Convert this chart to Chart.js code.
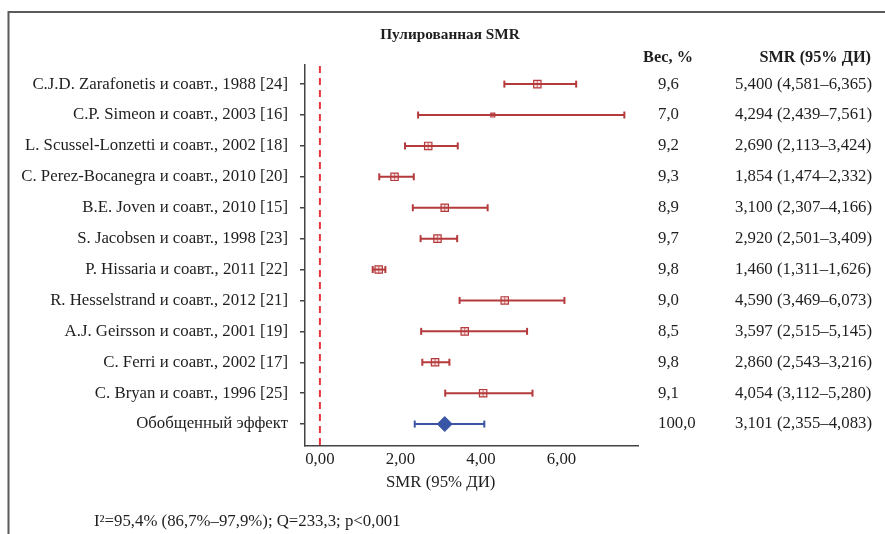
<!DOCTYPE html>
<html>
<head>
<meta charset="utf-8">
<script src="https://cdn.jsdelivr.net/npm/chart.js@4"></script>
<style>body{margin:0;background:#fff}</style>
</head>
<body>
<canvas id="chart" width="885" height="534"></canvas>
<script>
const studies = [
  'C.J.D. Zarafonetis и соавт., 1988 [24]',
  'C.P. Simeon и соавт., 2003 [16]',
  'L. Scussel-Lonzetti и соавт., 2002 [18]',
  'C. Perez-Bocanegra и соавт., 2010 [20]',
  'B.E. Joven и соавт., 2010 [15]',
  'S. Jacobsen и соавт., 1998 [23]',
  'P. Hissaria и соавт., 2011 [22]',
  'R. Hesselstrand и соавт., 2012 [21]',
  'A.J. Geirsson и соавт., 2001 [19]',
  'C. Ferri и соавт., 2002 [17]',
  'C. Bryan и соавт., 1996 [25]',
  'Обобщенный эффект'
];
const smr    = [5.400, 4.294, 2.690, 1.854, 3.100, 2.920, 1.460, 4.590, 3.597, 2.860, 4.054, 3.101];
const ciLow  = [4.581, 2.439, 2.113, 1.474, 2.307, 2.501, 1.311, 3.469, 2.515, 2.543, 3.112, 2.355];
const ciHigh = [6.365, 7.561, 3.424, 2.332, 4.166, 3.409, 1.626, 6.073, 5.145, 3.216, 5.280, 4.083];
const weights = [9.6, 7.0, 9.2, 9.3, 8.9, 9.7, 9.8, 9.0, 8.5, 9.8, 9.1, 100.0];
const xTicks = [0, 2, 4, 6];
const columnHeaders = ['Вес, %', 'SMR (95% ДИ)'];
const chartTitle = 'Пулированная SMR';
const xTitle = 'SMR (95% ДИ)';
const footnote = 'I²=95,4% (86,7%–97,9%); Q=233,3; p<0,001';

const pooled = studies.length - 1;
const red = '#b53a3c';
const blue = '#3b55a6';
const serif = "'Liberation Serif', 'Times New Roman', serif";
const textColor = '#1e1e1e';
const fontSize = 16.8;

const comma = (v, d) => v.toFixed(d).replace('.', ',');
const smrText = smr.map((v, i) => `${comma(v, 3)} (${comma(ciLow[i], 3)}–${comma(ciHigh[i], 3)})`);
const rowTicks = scale => { scale.ticks = studies.map((_, i) => ({ value: i })); };
const rowRange = { type: 'linear', reverse: true, min: -0.62, max: 11.71, afterBuildTicks: rowTicks };

const ciSets = studies.map((_, i) => ({
  data: [{ x: ciLow[i], y: i }, { x: ciHigh[i], y: i }],
  showLine: true,
  borderColor: i === pooled ? blue : red,
  borderWidth: 2,
  pointStyle: 'line',
  rotation: 90,
  pointRadius: 3.5,
  pointBorderWidth: 2,
  pointBorderColor: i === pooled ? blue : red
}));

const studyPoints = smr.slice(0, pooled).map((v, i) => ({ x: v, y: i }));

const extras = {
  id: 'extras',
  beforeDatasetsDraw(chart) {
    const { ctx, chartArea, scales } = chart;
    const x0 = scales.x.getPixelForValue(0);
    ctx.save();
    ctx.strokeStyle = '#e8353d';
    ctx.lineWidth = 2;
    ctx.setLineDash([7, 5]);
    ctx.beginPath();
    ctx.moveTo(x0, chartArea.top + 1);
    ctx.lineTo(x0, chartArea.bottom);
    ctx.stroke();
    ctx.restore();
  },
  afterDraw(chart) {
    const { ctx, scales } = chart;
    ctx.save();
    // frame
    ctx.strokeStyle = '#5a5a5a';
    ctx.lineWidth = 2;
    ctx.beginPath();
    ctx.moveTo(8.5, 534);
    ctx.lineTo(8.5, 12);
    ctx.lineTo(885, 12);
    ctx.stroke();
    // column headers
    ctx.fillStyle = textColor;
    ctx.font = `bold 16.3px ${serif}`;
    ctx.textBaseline = 'middle';
    ctx.textAlign = 'center';
    ctx.fillText(columnHeaders[0], scales.w.left + 30, 58);
    ctx.textAlign = 'right';
    ctx.fillText(columnHeaders[1], scales.s.left + 136, 58);
    // x axis title
    ctx.font = `${fontSize}px ${serif}`;
    ctx.textAlign = 'center';
    const xa = scales.x.getPixelForValue(xTicks[0]);
    const xb = scales.x.getPixelForValue(xTicks[xTicks.length - 1]);
    ctx.fillText(xTitle, (xa + xb) / 2, 483);
    // footnote
    ctx.textAlign = 'left';
    ctx.fillText(footnote, 94, 522);
    ctx.restore();
  }
};

new Chart(document.getElementById('chart'), {
  type: 'scatter',
  data: {
    datasets: [
      ...ciSets,
      {
        data: studyPoints,
        pointStyle: 'rect',
        pointRadius: ctx => weights[ctx.dataIndex] < 8 ? 2.8 : 5.2,
        backgroundColor: 'rgba(240,200,200,0.5)',
        borderColor: red,
        borderWidth: 1.2
      },
      {
        data: studyPoints,
        pointStyle: 'line',
        rotation: 90,
        pointRadius: ctx => weights[ctx.dataIndex] < 8 ? 0 : 3.6,
        borderColor: red,
        borderWidth: 1.2
      },
      {
        data: [{ x: smr[pooled], y: pooled }],
        pointStyle: 'rectRot',
        pointRadius: 7.5,
        backgroundColor: blue,
        borderColor: blue,
        borderWidth: 1
      }
    ]
  },
  options: {
    responsive: false,
    animation: false,
    devicePixelRatio: 1,
    layout: { padding: { left: 15, right: 0, top: 0, bottom: 0 } },
    plugins: {
      legend: { display: false },
      tooltip: { enabled: false },
      title: {
        display: true,
        text: chartTitle,
        color: textColor,
        font: { family: serif, size: 15.3, weight: 'bold' },
        lineHeight: 1.2,
        padding: { top: 26, bottom: 20.6 }
      }
    },
    scales: {
      x: {
        type: 'linear', min: -0.37, max: 7.9,
        afterBuildTicks: scale => { scale.ticks = xTicks.map(v => ({ value: v })); },
        afterFit: scale => { scale.height = 88; },
        grid: { display: false, drawTicks: false },
        border: { color: '#444', width: 1.5 },
        ticks: { padding: 4, color: textColor, font: { family: serif, size: fontSize }, callback: v => comma(v, 2) }
      },
      y: {
        ...rowRange,
        position: 'left',
        afterFit: scale => { scale.width = 290; },
        grid: { drawOnChartArea: false, tickLength: 5, color: '#444', lineWidth: 1.5 },
        border: { color: '#444', width: 1.5 },
        ticks: { padding: 12, autoSkip: false, color: textColor, font: { family: serif, size: fontSize }, callback: v => studies[v] }
      },
      w: {
        ...rowRange,
        position: 'right',
        weight: 0,
        afterFit: scale => { scale.width = 97; },
        grid: { display: false, drawTicks: false },
        border: { display: false },
        ticks: { padding: 20, autoSkip: false, color: textColor, font: { family: serif, size: fontSize }, callback: v => comma(weights[v], 1) }
      },
      s: {
        ...rowRange,
        position: 'right',
        weight: 1,
        afterFit: scale => { scale.width = 150; },
        grid: { display: false, drawTicks: false },
        border: { display: false },
        ticks: { padding: 0, autoSkip: false, color: textColor, font: { family: serif, size: fontSize }, callback: v => smrText[v] }
      }
    }
  },
  plugins: [extras]
});
</script>
</body>
</html>
